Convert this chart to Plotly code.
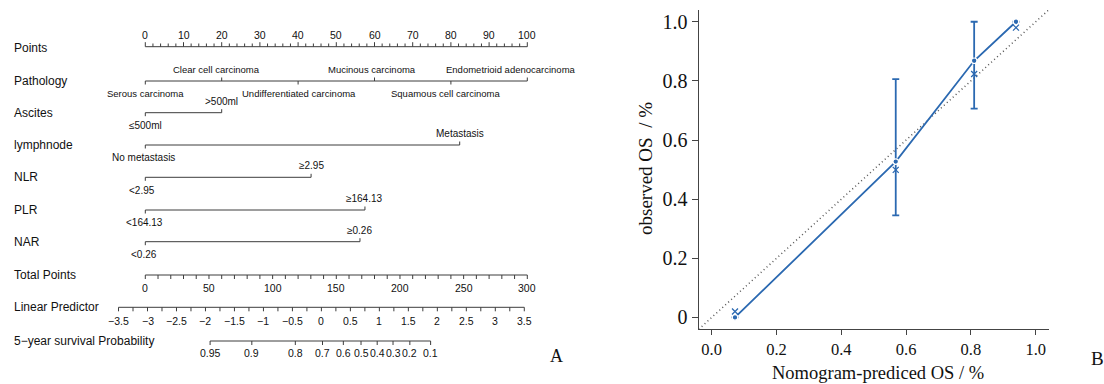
import math
import plotly.graph_objects as go

# ---------------- Nomogram data (A) ----------------
points_ticks = [0, 10, 20, 30, 40, 50, 60, 70, 80, 90, 100]
pathology_labels = ["Serous carcinoma", "Clear cell carcinoma", "Undifferentiated carcinoma",
                    "Mucinous carcinoma", "Squamous cell carcinoma", "Endometrioid adenocarcinoma"]
pathology_points = [0, 20, 40, 60, 80, 100]
ascites_labels = ["≤500ml", ">500ml"]
ascites_points = [0, 20]
lymph_labels = ["No metastasis", "Metastasis"]
lymph_points = [0, 82.3]
nlr_labels = ["<2.95", "≥2.95"]
nlr_points = [0, 43.4]
plr_labels = ["<164.13", "≥164.13"]
plr_points = [0, 57.5]
nar_labels = ["<0.26", "≥0.26"]
nar_points = [0, 56.2]
total_points_ticks = [0, 50, 100, 150, 200, 250, 300]
lp_ticks = [-3.5, -3, -2.5, -2, -1.5, -1, -0.5, 0, 0.5, 1, 1.5, 2, 2.5, 3, 3.5]
lp_tick_labels = ["−3.5", "−3", "−2.5", "−2", "−1.5", "−1", "−0.5", "0", "0.5", "1", "1.5", "2", "2.5", "3", "3.5"]
surv_ticks = [0.95, 0.9, 0.8, 0.7, 0.6, 0.5, 0.4, 0.3, 0.2, 0.1]
surv_tick_labels = ["0.95", "0.9", "0.8", "0.7", "0.6", "0.5", "0.4", "0.3", "0.2", "0.1"]
lp_at_total0 = -3.038      # linear predictor at 0 total points
lp_at_total300 = 3.552     # linear predictor at 300 total points
loglog_baseline = -1.05    # log(-log S0(5 years))

# ---------------- Calibration data (B) ----------------
cal_pred = [0.072, 0.568, 0.810, 0.939]
cal_obs = [0.0, 0.527, 0.868, 1.0]
cal_lower = [0.0, 0.345, 0.706, 1.0]
cal_upper = [0.0, 0.806, 1.0, 1.0]
cal_corrected = [0.020, 0.499, 0.823, 0.980]
cal_ticks = [0, 0.2, 0.4, 0.6, 0.8, 1.0]

# ---------------- scales ----------------
def p_from_total(tp):
    return tp / 3.0

def total_from_lp(lp):
    return (lp - lp_at_total0) / (lp_at_total300 - lp_at_total0) * 300.0

def lp_from_surv(s):
    return math.log(-math.log(s)) - loglog_baseline

# layout constants (screen pixels; body margin removed by post_script)
OFF = 0
W, H = 1104, 384
PX0, PX_PER_PT = 145.3, 3.82
NOMO_W = 600
x_range = [(OFF - PX0) / PX_PER_PT, (OFF + NOMO_W - PX0) / PX_PER_PT]

def paper_x(px):
    return (px - OFF) / W

def paper_y(py):
    return 1 - (py - OFF) / H

ROW = {"Points": 46.7, "Pathology": 81, "Ascites": 112.7, "lymphnode": 145, "NLR": 177.3,
       "PLR": 210, "NAR": 241.7, "Total Points": 275, "Linear Predictor": 307.3,
       "5−year survival Probability": 341}
ABOVE, BELOW = -11.5, 12.7
SANS = "Liberation Sans, Arial, sans-serif"
SERIF = "Liberation Serif, Times New Roman, serif"
INK = "#3c3c3c"
BLUE = "#2b69b1"

segx, segy = [], []
annots = []

def seg(x0, y0, x1, y1):
    segx.extend([x0, x1, None])
    segy.extend([y0, y1, None])

def txt(x, y, s, size=10, xanchor="center", xref="x", yref="y", font=SANS, **kw):
    annots.append(dict(x=x, y=y, text=s, showarrow=False, xref=xref, yref=yref,
                       xanchor=xanchor, yanchor="middle", font=dict(family=font, size=size, color="#111"), **kw))

# row labels
for name, y in ROW.items():
    dy = 1.5 if name == "Points" else 0
    txt(paper_x(11.7), paper_y(y + dy), name, size=12, xanchor="left", xref="paper", yref="paper")

# Points axis (ticks up)
y = ROW["Points"]
seg(0, y, 100, y)
for v in range(0, 101, 2):
    seg(v, y, v, y - (4.5 if v % 10 == 0 else 3.2))
for v in points_ticks:
    txt(v, y - 11.7, str(v), size=10.5)

# categorical rows
def cat_row(name, pts, labels, above_idx, size=10, shifts=None):
    y = ROW[name]
    seg(min(pts), y, max(pts), y)
    for i, (p, lab) in enumerate(zip(pts, labels)):
        up = i in above_idx
        seg(p, y, p, y - 3.5 if up else y + 3.5)
        sh = shifts[i] if shifts else 0
        txt(p, y + (ABOVE if up else BELOW), lab, size=size, xshift=sh)

cat_row("Pathology", pathology_points, pathology_labels, {1, 3, 5}, size=9.5,
        shifts=[0, -5, 1, -3, -5, -16])
cat_row("Ascites", ascites_points, ascites_labels, {1})
cat_row("lymphnode", lymph_points, lymph_labels, {1}, shifts=[-2, 0])
cat_row("NLR", nlr_points, nlr_labels, {1}, shifts=[-3, 0])
cat_row("PLR", plr_points, plr_labels, {1}, shifts=[-1, 0])
cat_row("NAR", nar_points, nar_labels, {1}, shifts=[-1, 0])

# Total points (ticks down)
y = ROW["Total Points"]
seg(0, y, p_from_total(300), y)
for v in range(0, 301, 10):
    seg(p_from_total(v), y, p_from_total(v), y + 4)
for v in total_points_ticks:
    txt(p_from_total(v), y + 13.3, str(v), size=10.5)

# Linear predictor
y = ROW["Linear Predictor"]
p_lo, p_hi = p_from_total(total_from_lp(lp_ticks[0])), p_from_total(total_from_lp(lp_ticks[-1]))
seg(p_lo, y, p_hi, y)
v = lp_ticks[0]
while v <= lp_ticks[-1] + 1e-9:
    px = p_from_total(total_from_lp(v))
    seg(px, y, px, y + 4)
    v += 0.25
for v, lab in zip(lp_ticks, lp_tick_labels):
    txt(p_from_total(total_from_lp(v)), y + 13.4, lab, size=10.5)

# Survival probability
y = ROW["5−year survival Probability"]
sp = [p_from_total(total_from_lp(lp_from_surv(s))) for s in surv_ticks]
seg(min(sp), y, max(sp), y)
for p, lab in zip(sp, surv_tick_labels):
    seg(p, y, p, y + 4)
    txt(p, y + 12.3, lab, size=10.5)

fig = go.Figure()
fig.add_trace(go.Scatter(x=segx, y=segy, mode="lines", line=dict(color=INK, width=1),
                         hoverinfo="skip", showlegend=False, xaxis="x", yaxis="y"))

# ---------------- Calibration plot ----------------
fig.add_trace(go.Scatter(x=[-0.04, 1.04], y=[-0.04, 1.04], mode="lines",
                         line=dict(color="#555555", width=1.5, dash="1px,3px"),
                         showlegend=False, xaxis="x2", yaxis="y2"))
fig.add_trace(go.Scatter(
    x=cal_pred, y=cal_obs, mode="lines+markers",
    line=dict(color=BLUE, width=1.8),
    marker=dict(color=BLUE, size=5.5, line=dict(color="white", width=1.2)),
    error_y=dict(type="data", symmetric=False,
                 array=[u - o for u, o in zip(cal_upper, cal_obs)],
                 arrayminus=[o - l for o, l in zip(cal_obs, cal_lower)],
                 color=BLUE, thickness=1.8, width=3.5),
    showlegend=False, xaxis="x2", yaxis="y2"))
fig.add_trace(go.Scatter(x=cal_pred, y=cal_corrected, mode="markers",
                         marker=dict(symbol="x-thin", size=6, color=BLUE, line=dict(color=BLUE, width=1.3)),
                         showlegend=False, xaxis="x2", yaxis="y2"))

txt(paper_x(878), paper_y(372.7), "Nomogram-prediced OS / %", size=18.5, xref="paper", yref="paper", font=SERIF)
txt(paper_x(645), paper_y(169), "observed OS  / %", size=19, xref="paper", yref="paper", font=SERIF, textangle=-90)
txt(paper_x(556), paper_y(356), "A", size=18, xref="paper", yref="paper", font=SERIF)
txt(paper_x(1097), paper_y(358), "B", size=19, xref="paper", yref="paper", font=SERIF)

fig.update_layout(
    width=W, height=H, margin=dict(l=0, r=0, t=0, b=0),
    paper_bgcolor="white", plot_bgcolor="white",
    annotations=annots,
    xaxis=dict(domain=[0, NOMO_W / W], range=x_range, visible=False, fixedrange=True),
    yaxis=dict(domain=[0, 1], range=[OFF + H, OFF], visible=False, fixedrange=True),
    xaxis2=dict(domain=[paper_x(698.7), paper_x(1048.7)], range=[-0.04, 1.04], anchor="y2",
                showline=True, linecolor="#444", linewidth=1.3, ticks="outside", ticklen=5,
                tickcolor="#444", tickwidth=1.2, tickvals=cal_ticks,
                ticktext=["0.0", "0.2", "0.4", "0.6", "0.8", "1.0"],
                tickfont=dict(family=SERIF, size=16.5, color="#111"),
                showgrid=False, zeroline=False),
    yaxis2=dict(domain=[paper_y(329.3), paper_y(9.9)], range=[-0.04, 1.04], anchor="x2",
                showline=True, linecolor="#444", linewidth=1.3, ticks="outside", ticklen=6,
                tickcolor="#444", tickwidth=1.2, tickvals=cal_ticks,
                ticktext=["0", "0.2", "0.4", "0.6", "0.8", "1.0"],
                tickfont=dict(family=SERIF, size=20, color="#111"),
                showgrid=False, zeroline=False),
)
fig.write_html("out.html", config={"displayModeBar": False},
               post_script="document.body.style.margin='0px';document.body.style.overflow='hidden';")
